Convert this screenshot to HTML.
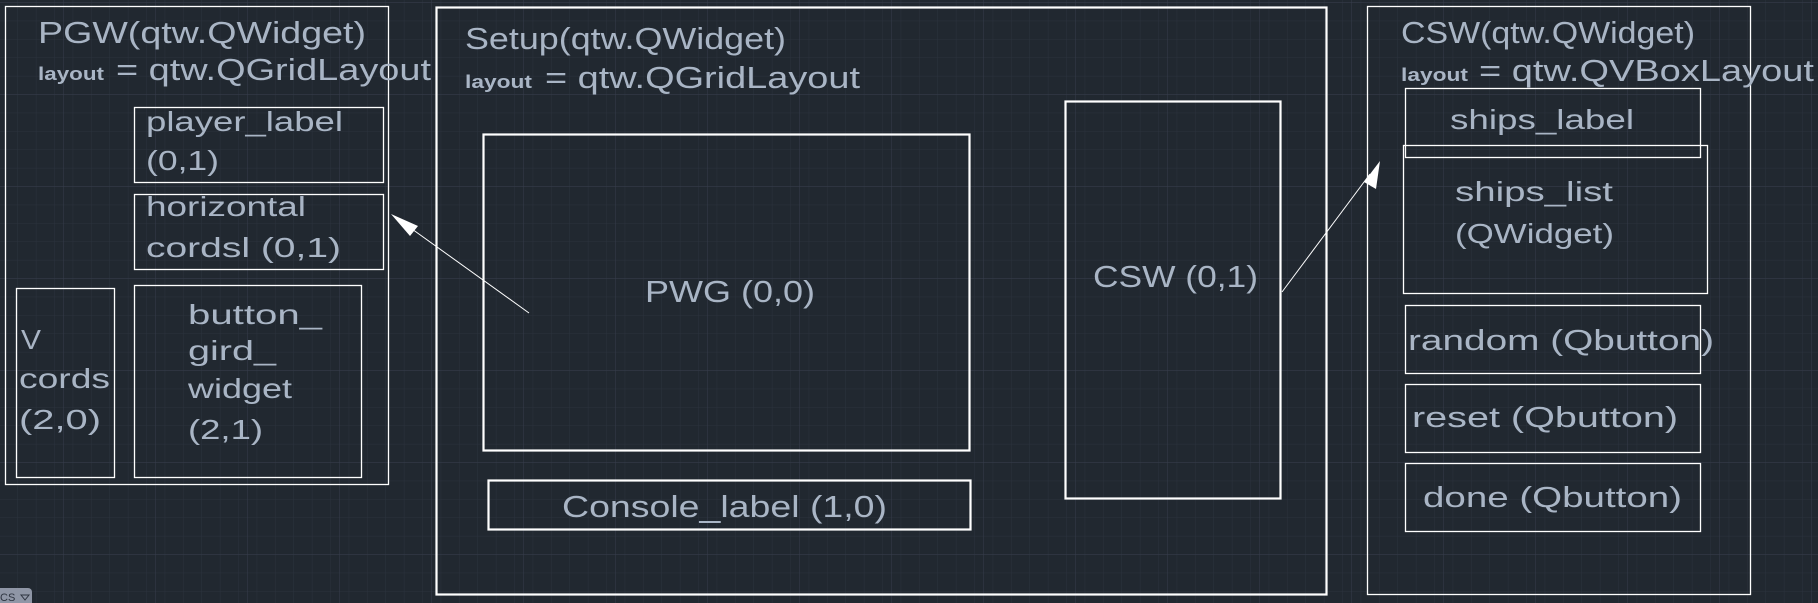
<!DOCTYPE html>
<html><head><meta charset="utf-8"><style>
html,body{margin:0;padding:0;background:#212830;}
svg{display:block}
text{font-family:"Liberation Sans","DejaVu Sans",sans-serif;fill:#a9b5c5;}
</style></head><body>
<svg width="1818" height="603" viewBox="0 0 1818 603" xmlns="http://www.w3.org/2000/svg">
<defs>
<pattern id="minor" x="-0.4" y="2.8" width="18.4" height="18.4" patternUnits="userSpaceOnUse">
<path d="M18.4 0V18.4M0 18.4H18.4" stroke="#2b323d" stroke-width="1" fill="none"/>
</pattern>
<pattern id="major" x="-28" y="3" width="92" height="92" patternUnits="userSpaceOnUse">
<path d="M92 0V92M0 92H92" stroke="#363d4c" stroke-width="1" fill="none"/>
</pattern>
</defs>
<rect width="1818" height="603" fill="#212830"/>
<rect width="1818" height="603" fill="url(#minor)"/>
<rect width="1818" height="603" fill="url(#major)"/>

<g fill="none" stroke="#ffffff">
<!-- PGW -->
<rect x="5.5" y="6.5" width="383" height="478" stroke-width="1.3"/>
<rect x="134.5" y="107.5" width="249" height="75" stroke-width="1.3"/>
<rect x="134.5" y="194.5" width="249" height="75" stroke-width="1.3"/>
<rect x="16.5" y="288.5" width="98" height="189" stroke-width="1.3"/>
<rect x="134.5" y="285.5" width="227" height="192" stroke-width="1.3"/>
<!-- Setup -->
<rect x="436.5" y="7.5" width="890" height="587" stroke-width="2.2"/>
<rect x="483.5" y="134.5" width="486" height="316" stroke-width="2.2"/>
<rect x="488.5" y="480.5" width="482" height="49" stroke-width="2.2"/>
<rect x="1065.5" y="101.5" width="215" height="397" stroke-width="2.2"/>
<!-- CSW -->
<rect x="1367.5" y="6.5" width="383" height="588" stroke-width="1.3"/>
<rect x="1405.5" y="88.5" width="295" height="69" stroke-width="1.3"/>
<rect x="1403.5" y="145.5" width="304" height="148" stroke-width="1.3"/>
<rect x="1405.5" y="305.5" width="295" height="68" stroke-width="1.3"/>
<rect x="1405.5" y="384.5" width="295" height="68" stroke-width="1.3"/>
<rect x="1405.5" y="463.5" width="295" height="68" stroke-width="1.3"/>
<!-- arrows -->
<line x1="529" y1="313" x2="405" y2="224" stroke-width="1"/>
<line x1="1282" y1="292" x2="1370" y2="174" stroke-width="1"/>
</g>
<polygon points="391,214 418,226 410,236" fill="#fff"/>
<polygon points="1380,161 1376,189 1364,182" fill="#fff"/>

<!-- PGW text -->
<text x="38" y="43" font-size="31" textLength="328" lengthAdjust="spacingAndGlyphs">PGW(qtw.QWidget)</text>
<text x="38" y="80" font-size="18" font-weight="bold" textLength="66" lengthAdjust="spacingAndGlyphs">layout</text>
<text x="116" y="80" font-size="31" textLength="315" lengthAdjust="spacingAndGlyphs">= qtw.QGridLayout</text>
<text x="146" y="131" font-size="28" textLength="197" lengthAdjust="spacingAndGlyphs">player_label</text>
<text x="146" y="170" font-size="28" textLength="73" lengthAdjust="spacingAndGlyphs">(0,1)</text>
<text x="146" y="216" font-size="28" textLength="160" lengthAdjust="spacingAndGlyphs">horizontal</text>
<text x="146" y="257" font-size="28" textLength="195" lengthAdjust="spacingAndGlyphs">cordsl (0,1)</text>
<text x="21" y="349" font-size="28" textLength="20" lengthAdjust="spacingAndGlyphs">V</text>
<text x="19" y="388" font-size="28" textLength="91" lengthAdjust="spacingAndGlyphs">cords</text>
<text x="19" y="429" font-size="28" textLength="82" lengthAdjust="spacingAndGlyphs">(2,0)</text>
<text x="188" y="324" font-size="28" textLength="134" lengthAdjust="spacingAndGlyphs">button_</text>
<text x="188" y="360" font-size="28" textLength="88" lengthAdjust="spacingAndGlyphs">gird_</text>
<text x="188" y="398" font-size="28" textLength="104" lengthAdjust="spacingAndGlyphs">widget</text>
<text x="188" y="439" font-size="28" textLength="75" lengthAdjust="spacingAndGlyphs">(2,1)</text>

<!-- Setup text -->
<text x="465" y="49" font-size="31" textLength="321" lengthAdjust="spacingAndGlyphs">Setup(qtw.QWidget)</text>
<text x="465" y="88" font-size="18" font-weight="bold" textLength="67" lengthAdjust="spacingAndGlyphs">layout</text>
<text x="545" y="88" font-size="31" textLength="315" lengthAdjust="spacingAndGlyphs">= qtw.QGridLayout</text>
<text x="645" y="302" font-size="31" textLength="170" lengthAdjust="spacingAndGlyphs">PWG (0,0)</text>
<text x="562" y="517" font-size="31" textLength="325" lengthAdjust="spacingAndGlyphs">Console_label (1,0)</text>
<text x="1093" y="287" font-size="31" textLength="165" lengthAdjust="spacingAndGlyphs">CSW (0,1)</text>

<!-- CSW text -->
<text x="1401" y="43" font-size="31" textLength="294" lengthAdjust="spacingAndGlyphs">CSW(qtw.QWidget)</text>
<text x="1401" y="81" font-size="18" font-weight="bold" textLength="67" lengthAdjust="spacingAndGlyphs">layout</text>
<text x="1479" y="81" font-size="31" textLength="335" lengthAdjust="spacingAndGlyphs">= qtw.QVBoxLayout</text>
<text x="1450" y="129" font-size="28" textLength="184" lengthAdjust="spacingAndGlyphs">ships_label</text>
<text x="1455" y="201" font-size="28" textLength="158" lengthAdjust="spacingAndGlyphs">ships_list</text>
<text x="1455" y="243" font-size="28" textLength="159" lengthAdjust="spacingAndGlyphs">(QWidget)</text>
<text x="1408" y="350" font-size="29" textLength="306" lengthAdjust="spacingAndGlyphs">random (Qbutton)</text>
<text x="1412" y="427" font-size="29" textLength="266" lengthAdjust="spacingAndGlyphs">reset (Qbutton)</text>
<text x="1423" y="507" font-size="29" textLength="259" lengthAdjust="spacingAndGlyphs">done (Qbutton)</text>

<!-- UCS tab -->
<rect x="-6" y="588" width="38" height="20" rx="4" fill="#8f96a6"/>
<text x="0" y="601" font-size="11" style="fill:#2e3440">CS</text>
<polygon points="21,595 29,595 25,600" fill="none" stroke="#2e3440" stroke-width="1"/>
</svg>
</body></html>
